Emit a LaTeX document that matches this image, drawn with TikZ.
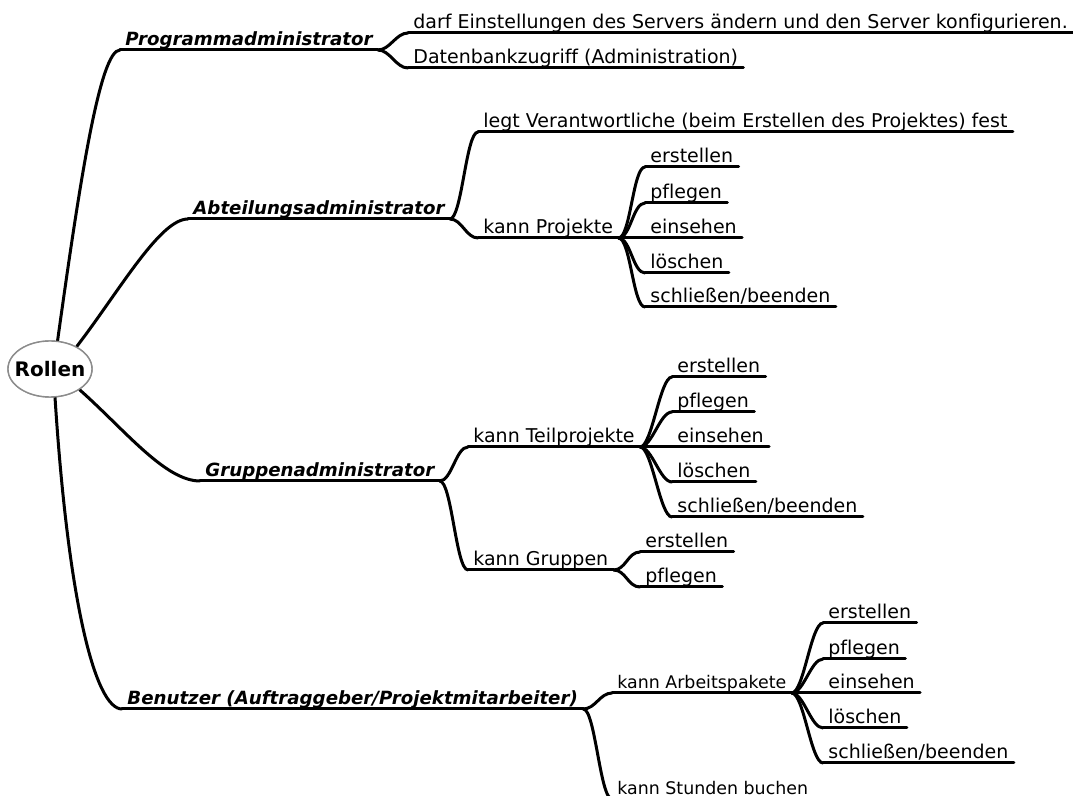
\documentclass[tikz,border=0pt]{standalone}
\usepackage{fontspec}
\setmainfont{DejaVu Sans}[Ligatures=NoCommon,ItalicFont={DejaVu Sans Oblique},BoldFont={DejaVu Sans Bold},BoldItalicFont={DejaVu Sans Bold Oblique}]
\usetikzlibrary{shapes.geometric}
\tikzset{rootnode/.style={ellipse,draw=black!45,line width=0.7pt,fill=white,minimum width=42pt,minimum height=28pt,inner sep=0pt,font=\fontsize{10}{12}\selectfont\bfseries}}
\tikzset{topic/.style={inner xsep=2.5pt,inner ysep=2pt,text depth=0pt,anchor=south west,font=\fontsize{9.5}{11}\selectfont}}
\tikzset{minor/.style={topic,font=\fontsize{8.7}{10}\selectfont}}
\tikzset{role/.style={topic,font=\fontsize{9.1}{11}\selectfont\bfseries\itshape}}
\tikzset{conn/.style={line width=1.5pt,line cap=round}}
\tikzset{forkto/.style={to path={.. controls ([xshift=6pt]\tikztostart) and ([xshift=-6pt]\tikztotarget) .. (\tikztotarget)}}}

\begin{document}
\begin{tikzpicture}[x=0.5pt,y=-0.5pt]
        \useasboundingbox (0,0) rectangle (1073,796);
        \node[rootnode] (root) at (50,369) {\makebox[29pt]{Rollen}};

        % Rollen
        \node[role] (prog) at (120,50) {Programmadministrator};
        \node[role] (abt) at (188,219) {Abteilungsadministrator};
        \node[role] (grp) at (200,481) {Gruppenadministrator};
        \node[role] (ben) at (122,709) {Benutzer (Auftraggeber/Projektmitarbeiter)};

        % Programmadministrator
        \node[topic] (prog1) at (408,33) {darf Einstellungen des Servers ändern und den Server konfigurieren.};
        \node[topic] (prog2) at (408,68) {Datenbankzugriff (Administration)};

        % Abteilungsadministrator
        \node[topic] (abt1) at (478,132) {legt Verantwortliche (beim Erstellen des Projektes) fest};
        \node[topic] (abt2) at (478,238) {kann Projekte};
        \node[topic] (abt21) at (645,167) {erstellen};
        \node[topic] (abt22) at (645,203) {pflegen};
        \node[topic] (abt23) at (645,238) {einsehen};
        \node[topic] (abt24) at (645,273) {löschen};
        \node[topic] (abt25) at (645,307) {schließen/beenden};

        % Gruppenadministrator
        \node[topic] (grp1) at (468,447) {kann Teilprojekte};
        \node[topic] (grp11) at (672,377) {erstellen};
        \node[topic] (grp12) at (672,412) {pflegen};
        \node[topic] (grp13) at (672,447) {einsehen};
        \node[topic] (grp14) at (672,482) {löschen};
        \node[topic] (grp15) at (672,517) {schließen/beenden};
        \node[topic] (grp2) at (468,570) {kann Gruppen};
        \node[topic] (grp21) at (640,552) {erstellen};
        \node[topic] (grp22) at (640,587) {pflegen};

        % Benutzer
        \node[minor] (ben1) at (612,693) {kann Arbeitspakete};
        \node[topic] (ben11) at (823,623) {erstellen};
        \node[topic] (ben12) at (823,659) {pflegen};
        \node[topic] (ben13) at (823,693) {einsehen};
        \node[topic] (ben14) at (823,728) {löschen};
        \node[topic] (ben15) at (823,763) {schließen/beenden};
        \node[minor] (ben2) at (612,799) {kann Stunden buchen};

        % underlines
        \foreach \n in {prog,abt,grp,ben,prog1,prog2,abt1,abt2,abt21,abt22,abt23,abt24,abt25,grp1,grp11,grp12,grp13,grp14,grp15,grp2,grp21,grp22,ben1,ben11,ben12,ben13,ben14,ben15,ben2}
            \draw[conn] (\n.south west) -- (\n.south east);

        % from the root
        \draw[conn] (root.75) .. controls (80,180) and (100,50) .. (prog.south west);
        \draw[conn] (root.40) .. controls (120,290) and (160,219) .. (abt.south west);
        \draw[conn] (root.-35) .. controls (125,430) and (165,481) .. (grp.south west);
        \draw[conn] (root.-80) .. controls (68,600) and (95,709) .. (ben.south west);

        % forks
        \foreach \c in {prog1,prog2} \draw[conn] (prog.south east) to[forkto] (\c.south west);
        \foreach \c in {abt1,abt2} \draw[conn] (abt.south east) to[forkto] (\c.south west);
        \foreach \c in {abt21,abt22,abt23,abt24,abt25} \draw[conn] (abt2.south east) to[forkto] (\c.south west);
        \foreach \c in {grp1,grp2} \draw[conn] (grp.south east) to[forkto] (\c.south west);
        \foreach \c in {grp11,grp12,grp13,grp14,grp15} \draw[conn] (grp1.south east) to[forkto] (\c.south west);
        \foreach \c in {grp21,grp22} \draw[conn] (grp2.south east) to[forkto] (\c.south west);
        \foreach \c in {ben1,ben2} \draw[conn] (ben.south east) to[forkto] (\c.south west);
        \foreach \c in {ben11,ben12,ben13,ben14,ben15} \draw[conn] (ben1.south east) to[forkto] (\c.south west);

        \node[rootnode] at (root) {\makebox[29pt]{Rollen}};
    \end{tikzpicture}
\end{document}
